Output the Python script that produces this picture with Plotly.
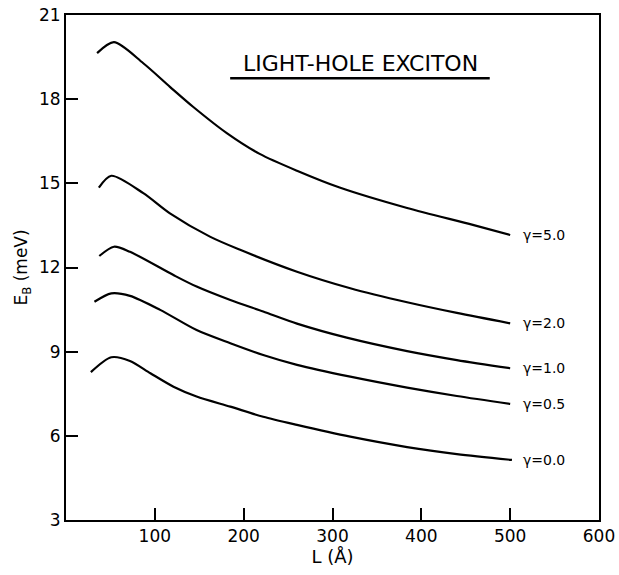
import plotly.graph_objects as go

# Curve data (L in Angstrom, E_B in meV)
L_g50 = [35, 54, 87, 117, 143, 181, 218, 260, 308, 384, 458, 500]
E_g50 = [19.64, 20.03, 19.28, 18.44, 17.73, 16.79, 16.05, 15.45, 14.85, 14.12, 13.52, 13.16]

L_g20 = [37, 51, 87, 117, 162, 196, 260, 320, 384, 440, 500]
E_g20 = [14.85, 15.27, 14.65, 13.93, 13.10, 12.63, 11.85, 11.26, 10.76, 10.38, 10.01]

L_g10 = [37.5, 54, 72, 121, 147, 185, 222, 260, 316, 384, 440, 500]
E_g10 = [12.41, 12.74, 12.56, 11.73, 11.32, 10.84, 10.43, 10.00, 9.50, 9.02, 8.70, 8.41]

L_g05 = [32, 51, 72, 106, 147, 185, 222, 260, 320, 384, 440, 500]
E_g05 = [10.78, 11.08, 10.99, 10.49, 9.77, 9.30, 8.88, 8.53, 8.11, 7.72, 7.42, 7.14]

L_g00 = [28, 51, 72, 95, 121, 147, 185, 222, 260, 320, 384, 440, 502]
E_g00 = [8.27, 8.80, 8.67, 8.23, 7.75, 7.40, 7.04, 6.68, 6.39, 5.97, 5.60, 5.35, 5.14]

series = [
    ("γ=5.0", L_g50, E_g50),
    ("γ=2.0", L_g20, E_g20),
    ("γ=1.0", L_g10, E_g10),
    ("γ=0.5", L_g05, E_g05),
    ("γ=0.0", L_g00, E_g00),
]

x_ticks = [100, 200, 300, 400, 500, 600]
y_ticks = [3, 6, 9, 12, 15, 18, 21]

FONT = "DejaVu Sans, Liberation Sans, sans-serif"

fig = go.Figure()
for name, xs, ys in series:
    fig.add_trace(go.Scatter(x=xs, y=ys, mode="lines", name=name,
                             line=dict(color="black", width=2.2, shape="spline", smoothing=0.8),
                             showlegend=False))
    fig.add_annotation(x=512, y=ys[-1], text=name, showarrow=False,
                       xanchor="left", yanchor="middle",
                       font=dict(family=FONT, size=14, color="black"))

fig.add_annotation(x=0.552, y=0.903, xref="paper", yref="paper",
                   text="LIGHT-HOLE EXCITON", showarrow=False,
                   xanchor="center", yanchor="middle",
                   font=dict(family=FONT, size=22, color="black"))
fig.add_shape(type="line", xref="paper", yref="paper",
              x0=0.308, x1=0.795, y0=0.875, y1=0.875,
              line=dict(color="black", width=2.5))

fig.update_xaxes(range=[0, 600], tickvals=x_ticks, ticks="inside", ticklen=12,
                 tickwidth=1.5, tickcolor="black", showline=True, linecolor="black",
                 linewidth=2, mirror=True, showgrid=False, zeroline=False,
                 automargin=False, ticklabeloverflow="allow",
                 tickfont=dict(family=FONT, size=17, color="black"),
                 title=dict(text="L (Å)", font=dict(family=FONT, size=18, color="black"),
                            standoff=2))
fig.update_yaxes(range=[3, 21], tickvals=y_ticks, ticks="inside", ticklen=12,
                 tickwidth=1.5, tickcolor="black", showline=True, linecolor="black",
                 linewidth=2, mirror=True, showgrid=False, zeroline=False,
                 automargin=False, ticklabeloverflow="allow",
                 tickfont=dict(family=FONT, size=17, color="black"),
                 title=dict(text="E<sub>B</sub> (meV)", font=dict(family=FONT, size=17, color="black"),
                            standoff=7))

fig.update_layout(width=619, height=575, plot_bgcolor="white", paper_bgcolor="white",
                  margin=dict(l=66, r=20, t=15, b=55))

# Remove the default page margin so the figure fills the window exactly
fig.write_html("out.html", config={"displayModeBar": False},
               post_script="document.body.style.margin='0';document.body.style.overflow='hidden';")
